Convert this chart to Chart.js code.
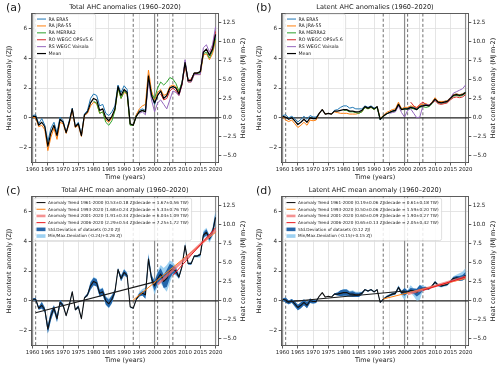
<!DOCTYPE html>
<html>
<head>
<meta charset="utf-8">
<script src="https://cdn.jsdelivr.net/npm/chart.js@4.4.1/dist/chart.umd.min.js"></script>
<style>
  html, body { margin: 0; padding: 0; background: #fff; }
  #wrap { position: relative; width: 500px; height: 367px; overflow: hidden; }
  canvas { position: absolute; }
</style>
</head>
<body>
<div id="wrap">
  <canvas id="pa" width="250" height="184" style="left:0;top:0"></canvas>
  <canvas id="pb" width="250" height="184" style="left:250px;top:0"></canvas>
  <canvas id="pc" width="250" height="184" style="left:0;top:183px"></canvas>
  <canvas id="pd" width="250" height="184" style="left:250px;top:183px"></canvas>
</div>
<script>
// ---- data (ZJ, annual anomalies) ----
const FIRST_YEAR = 1960;
const X_MIN = 1959.7, X_MAX = 2020.9;
const xTicks = [1960, 1965, 1970, 1975, 1980, 1985, 1990, 1995, 2000, 2005, 2010, 2015, 2020];
const yTicks = [-2, 0, 2, 4, 6];
const y2Ticks = [-5, -2.5, 0, 2.5, 5, 7.5, 10, 12.5];
const Y_MIN = -3, Y_MAX = 7;
const ZJ_TO_MJ = 1.96;
const solidYears = [1960, 2000, 2020];
const dashedYears = [1961, 1993, 2001, 2006];

const seriesNames = ['RA ERA5', 'RA JRA-55', 'RA MERRA2', 'RO WEGC OPSv5.6', 'RS WEGC Vaisala'];
const seriesColors = ['#1f77b4', '#ff7f0e', '#2ca02c', '#d62728', '#9467bd'];
const seriesStart = [1960, 1960, 1980, 2002, 1995];

// total AHC
const totEra5 = [
  0.15, 0.2, -0.4, -0.05, -0.5, -1.6, -0.7, -0.3, -1.0, 0.05,
  -0.2, -1.0, -0.2, 0.65, -0.55, -0.3, -1.15, 0.25, 0.5, 1.3,
  1.6, 1.5, 0.8, 0.9, 0.3, 0.15, 0.4, 0.8, 2.2, 1.7,
  2.15, 1.9, -0.45, -0.45, 0.2, 0.5, 0.6, 0.5, 2.9, 1.5,
  0.9, 1.5, 1.8, 1.3, 1.5, 2.0, 2.1, 2.0, 1.6, 2.3,
  3.7, 2.5, 2.5, 3.0, 3.0, 3.1, 4.4, 4.6, 4.2, 4.6,
  5.5];
const totJra55 = [
  0.05, 0.0, -0.6, -0.5, -0.8, -2.2, -1.3, -0.7, -1.45, -0.3,
  -0.4, -1.05, -0.4, 0.55, -0.65, -0.5, -1.25, 0.15, 0.3, 0.8,
  1.05, 0.95, 0.3, 0.4, -0.15, -0.3, 0.0, 0.5, 2.0, 1.3,
  1.7, 1.6, -0.45, -0.5, 0.2, 0.6, 0.8, 0.9, 3.2, 1.8,
  1.2, 1.7, 1.9, 1.5, 1.6, 2.1, 2.2, 2.1, 1.7, 2.3,
  3.6, 2.4, 2.4, 2.9, 2.9, 2.9, 4.2, 4.3, 3.9, 4.3,
  5.2];
const totMerra2 = [ // from 1980
  1.1, 1.0, 0.3, 0.4, -0.3, -0.5, -0.2, 0.5, 2.0, 1.3,
  1.8, 1.6, -0.5, -0.5, 0.1, 0.4, 0.5, 0.4, 2.6, 1.6,
  1.3, 2.0, 2.4, 2.2, 2.4, 2.7, 2.6, 2.3, 1.8, 2.4,
  3.7, 2.5, 2.5, 3.0, 3.0, 3.0, 4.3, 4.4, 4.0, 4.5,
  5.3];
const totRoWegc = [ // from 2002
  1.6, 1.2, 1.3, 1.8, 2.0, 1.8, 1.5, 2.2,
  3.6, 2.5, 2.6, 3.0, 3.0, 3.1, 4.4, 4.6, 4.2, 4.7,
  5.8];
const totRsVaisala = [ // from 1995
  0.3, 0.4, 0.2, 2.5, 1.2,
  0.4, 1.0, 1.2, 0.9, 0.6, 1.2, 1.8, 1.7, 1.5, 2.3,
  3.9, 2.4, 2.4, 2.9, 2.9, 2.9, 4.7, 4.9, 4.4, 4.9,
  6.1];
const totMean = [
  0.1, 0.1, -0.5, -0.3, -0.6, -1.9, -1.0, -0.5, -1.2, -0.1,
  -0.3, -1.0, -0.3, 0.6, -0.6, -0.4, -1.2, 0.2, 0.4, 1.0,
  1.3, 1.2, 0.5, 0.6, 0.0, -0.2, 0.1, 0.6, 2.1, 1.5,
  1.9, 1.7, -0.4, -0.5, 0.1, 0.4, 0.5, 0.4, 2.8, 1.5,
  1.0, 1.5, 1.8, 1.3, 1.5, 2.0, 2.1, 2.0, 1.6, 2.3,
  3.7, 2.5, 2.5, 3.0, 3.0, 3.1, 4.4, 4.6, 4.2, 4.6,
  5.6];

// latent AHC
const latEra5 = [
  0.15, 0.2, 0.0, 0.1, -0.05, -0.28, -0.1, 0.1, -0.1, 0.15,
  0.05, 0.05, 0.3, 0.55, 0.25, 0.3, 0.25, 0.5, 0.55, 0.7,
  0.8, 0.8, 0.65, 0.7, 0.6, 0.6, 0.6, 0.8, 0.7, 0.8,
  0.65, 0.75, -0.15, 0.1, 0.25, 0.35, 0.45, 0.55, 0.95, 0.6,
  0.65, 0.65, 0.75, 0.7, 0.6, 0.8, 0.85, 0.9, 0.85, 1.05,
  1.3, 1.1, 1.05, 1.1, 1.15, 1.35, 1.55, 1.6, 1.55, 1.6,
  1.75];
const latJra55 = [
  0.05, -0.15, -0.25, -0.15, -0.4, -0.65, -0.5, -0.3, -0.5, -0.15,
  -0.2, -0.15, 0.3, 0.55, 0.25, 0.3, 0.25, 0.4, 0.35, 0.3,
  0.3, 0.3, 0.25, 0.25, 0.25, 0.3, 0.4, 0.7, 0.6, 0.7,
  0.55, 0.75, -0.05, 0.15, 0.35, 0.45, 0.55, 0.6, 1.05, 0.6,
  0.7, 0.7, 0.8, 0.75, 0.7, 0.85, 0.9, 0.95, 0.85, 1.05,
  1.35, 1.1, 1.1, 1.1, 1.15, 1.35, 1.55, 1.6, 1.55, 1.6,
  1.7];
const latMerra2 = [ // from 1980
  0.5, 0.5, 0.4, 0.4, 0.35, 0.3, 0.4, 0.7, 0.6, 0.7,
  0.55, 0.7, -0.1, 0.1, 0.25, 0.35, 0.4, 0.45, 0.9, 0.55,
  0.6, 0.55, 0.65, 0.6, 0.55, 0.7, 0.75, 0.7, 0.75, 0.95,
  1.2, 1.0, 1.0, 1.0, 1.05, 1.25, 1.45, 1.5, 1.45, 1.5,
  1.65];
const latRoWegc = [ // from 2002
  1.05, 0.8, 0.65, 0.9, 1.05, 0.9, 0.85, 1.0,
  1.15, 0.95, 0.9, 0.95, 1.0, 1.2, 1.35, 1.4, 1.35, 1.4,
  1.55];
const latRsVaisala = [ // from 1995
  0.3, 0.35, 0.4, 0.8, 0.35,
  0.05, 0.5, 0.6, 0.3, 0.0, 0.05, 0.8, 0.9, 0.85, 1.0,
  1.2, 1.05, 1.0, 1.05, 1.1, 1.3, 1.65, 1.75, 1.85, 1.95,
  2.2];
const latMean = [
  0.1, 0.05, -0.1, 0.0, -0.2, -0.45, -0.3, -0.1, -0.3, 0.0,
  -0.05, -0.05, 0.3, 0.55, 0.25, 0.3, 0.25, 0.45, 0.45, 0.5,
  0.55, 0.55, 0.45, 0.45, 0.4, 0.4, 0.5, 0.75, 0.65, 0.75,
  0.6, 0.75, -0.1, 0.1, 0.25, 0.35, 0.45, 0.5, 0.9, 0.55,
  0.6, 0.6, 0.7, 0.65, 0.55, 0.75, 0.8, 0.85, 0.8, 1.0,
  1.25, 1.05, 1.0, 1.05, 1.1, 1.3, 1.5, 1.55, 1.5, 1.55,
  1.7];

// trend lines: [startYear, endYear] and [startValue, endValue]
const trendPeriods = [[1961, 2000], [1993, 2020], [2001, 2020], [2006, 2020]];
const trendColors = ['#1a1a1a', '#ff7f0e', 'rgba(240,110,110,0.75)', '#e8151b'];
const trendWidths = [1.1, 1, 2.6, 1];
const totTrendVals = [[-0.8, 1.27], [0.05, 4.6], [1.1, 4.73], [1.7, 4.9]];
const latTrendVals = [[-0.08, 0.66], [0.12, 1.5], [0.45, 1.6], [0.7, 1.6]];
const totTrendLabels = [
  'Anomaly Trend 1961-2000 (0.53±0.18 ZJ/decade = 1.67±0.56 TW)',
  'Anomaly Trend 1993-2020 (1.68±0.24 ZJ/decade = 5.33±0.76 TW)',
  'Anomaly Trend 2001-2020 (1.91±0.34 ZJ/decade = 6.04±1.09 TW)',
  'Anomaly Trend 2006-2020 (2.29±0.54 ZJ/decade = 7.25±1.72 TW)',
  'Std.Deviation of datasets (0.20 ZJ)',
  'Min/Max.Deviation (-0.24/+0.26 ZJ)'];
const latTrendLabels = [
  'Anomaly Trend 1961-2000 (0.19±0.06 ZJ/decade = 0.61±0.18 TW)',
  'Anomaly Trend 1993-2020 (0.50±0.06 ZJ/decade = 1.59±0.20 TW)',
  'Anomaly Trend 2001-2020 (0.60±0.09 ZJ/decade = 1.90±0.27 TW)',
  'Anomaly Trend 2006-2020 (0.65±0.13 ZJ/decade = 2.05±0.42 TW)',
  'Std.Deviation of datasets (0.12 ZJ)',
  'Min/Max.Deviation (-0.15/+0.15 ZJ)'];

const STD_COLOR = 'rgba(28,95,165,0.95)';
const MINMAX_COLOR = 'rgba(140,200,238,0.85)';
const FONT = '"DejaVu Sans", sans-serif';
const TXT = '#1a1a1a';

Chart.defaults.font.family = FONT;

function pts(vals, start) { return vals.map((v, i) => ({ x: start + i, y: v })); }
function minus(s) { return s.replace('-', '\u2212'); }

// spread of the datasets around the mean, year by year
function bands(list, mean) {
  const sLo = [], sHi = [], mLo = [], mHi = [];
  mean.forEach((m, i) => {
    const yr = FIRST_YEAR + i;
    const vals = [];
    list.forEach((s, k) => { const j = yr - seriesStart[k]; if (j >= 0 && j < s.length) vals.push(s[j]); });
    const avg = vals.reduce((a, b) => a + b, 0) / vals.length;
    const sd = Math.sqrt(vals.reduce((a, b) => a + (b - avg) * (b - avg), 0) / vals.length);
    sLo.push({ x: yr, y: m - sd }); sHi.push({ x: yr, y: m + sd });
    mLo.push({ x: yr, y: Math.min(m - sd, Math.min(...vals)) });
    mHi.push({ x: yr, y: Math.max(m + sd, Math.max(...vals)) });
  });
  return { sLo, sHi, mLo, mHi };
}

function roundRect(ctx, x, y, w, h, r) {
  ctx.beginPath();
  ctx.moveTo(x + r, y); ctx.lineTo(x + w - r, y); ctx.quadraticCurveTo(x + w, y, x + w, y + r);
  ctx.lineTo(x + w, y + h - r); ctx.quadraticCurveTo(x + w, y + h, x + w - r, y + h);
  ctx.lineTo(x + r, y + h); ctx.quadraticCurveTo(x, y + h, x, y + h - r);
  ctx.lineTo(x, y + r); ctx.quadraticCurveTo(x, y, x + r, y);
  ctx.closePath();
}

function drawLegend(ctx, lg) {
  ctx.save();
  ctx.font = lg.font + 'px ' + FONT;
  const tw = Math.max(...lg.items.map(it => ctx.measureText(it.label).width));
  const w = 3 + lg.sw + 2.5 + tw + 3;
  const h = lg.pad * 2 + lg.row * lg.items.length;
  ctx.fillStyle = 'rgba(255,255,255,0.85)';
  ctx.strokeStyle = '#d2d2d2'; ctx.lineWidth = 0.7;
  roundRect(ctx, lg.x, lg.y, w, h, 2); ctx.fill(); ctx.stroke();
  ctx.textBaseline = 'middle';
  lg.items.forEach((it, i) => {
    const cy = lg.y + lg.pad + lg.row * (i + 0.5);
    const x0 = lg.x + 3, x1 = x0 + lg.sw;
    if (it.kind === 'patch') {
      ctx.fillStyle = it.color; ctx.fillRect(x0, cy - 1.8, lg.sw, 3.6);
    } else {
      ctx.strokeStyle = it.color; ctx.lineWidth = it.width;
      ctx.beginPath(); ctx.moveTo(x0, cy); ctx.lineTo(x1, cy); ctx.stroke();
    }
    ctx.fillStyle = TXT;
    ctx.fillText(it.label, x1 + 2.5, cy + 0.3);
  });
  ctx.restore();
}

const decoPlugin = {
  id: 'deco',
  beforeDatasetsDraw(chart, args, o) {
    const { ctx, chartArea: a } = chart;
    const x = chart.scales.x, y = chart.scales.y;
    ctx.save();
    ctx.beginPath(); ctx.rect(a.left, a.top, a.right - a.left, a.bottom - a.top); ctx.clip();
    ctx.strokeStyle = '#8c8c8c'; ctx.lineWidth = 1.2;
    solidYears.forEach(yr => {
      const px = x.getPixelForValue(yr);
      ctx.beginPath(); ctx.moveTo(px, a.top); ctx.lineTo(px, a.bottom); ctx.stroke();
    });
    ctx.strokeStyle = '#555'; ctx.lineWidth = 0.85; ctx.setLineDash([3, 2.2]);
    dashedYears.forEach(yr => {
      const px = x.getPixelForValue(yr);
      ctx.beginPath(); ctx.moveTo(px, a.top); ctx.lineTo(px, a.bottom); ctx.stroke();
    });
    ctx.setLineDash([]);
    ctx.strokeStyle = '#262626'; ctx.lineWidth = 1.2;
    const py = y.getPixelForValue(0);
    ctx.beginPath(); ctx.moveTo(a.left, py); ctx.lineTo(a.right, py); ctx.stroke();
    ctx.restore();
  },
  afterDraw(chart, args, o) {
    const { ctx, chartArea: a } = chart;
    ctx.save();
    // top frame edge
    ctx.strokeStyle = '#333'; ctx.lineWidth = 0.8;
    ctx.beginPath(); ctx.moveTo(a.left, a.top); ctx.lineTo(a.right, a.top); ctx.stroke();
    ctx.fillStyle = TXT;
    ctx.textAlign = 'center'; ctx.textBaseline = 'middle';
    ctx.font = '6.6px ' + FONT;
    ctx.fillText(o.title, (a.left + a.right) / 2, a.top - 6.3);
    ctx.font = '6.4px ' + FONT;
    ctx.fillText('Time (years)', (a.left + a.right) / 2, a.bottom + 15);
    const cy = (a.top + a.bottom) / 2;
    ctx.save(); ctx.translate(9.5, cy); ctx.rotate(-Math.PI / 2);
    ctx.fillText('Heat content anomaly (ZJ)', 0, 0); ctx.restore();
    ctx.save(); ctx.translate(243, cy); ctx.rotate(-Math.PI / 2);
    ctx.fillText('Heat content anomaly (MJ m-2)', 0, 0); ctx.restore();
    ctx.textAlign = 'left';
    ctx.font = '11px ' + FONT;
    ctx.fillText(o.letter, 6, 8.5);
    ctx.restore();
    drawLegend(ctx, o.legend);
  }
};

function scalesCfg() {
  const tickFont = { size: 5.4, family: FONT };
  return {
    x: {
      type: 'linear', min: X_MIN, max: X_MAX,
      afterBuildTicks: s => { s.ticks = xTicks.map(v => ({ value: v })); },
      afterFit: s => { s.height = 21.5; },
      grid: { color: '#dedede', lineWidth: 0.8, tickLength: 3, tickColor: '#333', tickWidth: 0.8 },
      border: { color: '#333', width: 0.8 },
      ticks: { font: tickFont, color: TXT, padding: 0.8, maxRotation: 0, autoSkip: false, callback: v => String(v) }
    },
    y: {
      position: 'left', min: Y_MIN, max: Y_MAX,
      afterBuildTicks: s => { s.ticks = yTicks.map(v => ({ value: v })); },
      afterFit: s => { s.width = 31.7; },
      grid: { color: '#dedede', lineWidth: 0.8, tickLength: 3, tickColor: '#333', tickWidth: 0.8 },
      border: { color: '#333', width: 0.8 },
      ticks: { font: { size: 5.7, family: FONT }, color: TXT, padding: 1.5, callback: v => minus(String(v)) }
    },
    y2: {
      position: 'right', min: Y_MIN * ZJ_TO_MJ, max: Y_MAX * ZJ_TO_MJ,
      afterBuildTicks: s => { s.ticks = y2Ticks.map(v => ({ value: v })); },
      afterFit: s => { s.width = 31.7; },
      grid: { drawOnChartArea: false, tickLength: 3, tickColor: '#333', tickWidth: 0.8 },
      border: { color: '#333', width: 0.8 },
      ticks: { font: { size: 5.7, family: FONT }, color: TXT, padding: 1.5, callback: v => minus(v.toFixed(1)) }
    }
  };
}

function makeChart(id, datasets, deco) {
  new Chart(document.getElementById(id), {
    type: 'line',
    data: { datasets: datasets },
    options: {
      responsive: false, animation: false, events: [],
      layout: { padding: { top: 13.5, left: 0, right: 0, bottom: 0 } },
      elements: { point: { radius: 0 }, line: { tension: 0, borderJoinStyle: 'round' } },
      scales: scalesCfg(),
      plugins: { legend: { display: false }, tooltip: { enabled: false }, deco: deco }
    },
    plugins: [decoPlugin]
  });
}

function datasetsPanel(list, mean) {
  const ds = list.map((s, k) => ({
    data: pts(s, seriesStart[k]), borderColor: seriesColors[k], borderWidth: 1, fill: false, order: 6 - k
  }));
  ds.push({ data: pts(mean, FIRST_YEAR), borderColor: '#000', borderWidth: 1.2, fill: false, order: 0 });
  return ds;
}

function datasetsMean(list, mean, trendVals) {
  const b = bands(list, mean);
  const ds = [
    { data: b.mLo, borderWidth: 0, borderColor: 'rgba(0,0,0,0)', fill: false, order: 20 },
    { data: b.mHi, borderWidth: 0, borderColor: 'rgba(0,0,0,0)', backgroundColor: MINMAX_COLOR, fill: '-1', order: 19 },
    { data: b.sLo, borderWidth: 0, borderColor: 'rgba(0,0,0,0)', fill: false, order: 18 },
    { data: b.sHi, borderWidth: 0, borderColor: 'rgba(0,0,0,0)', backgroundColor: STD_COLOR, fill: '-1', order: 17 },
    { data: pts(mean, FIRST_YEAR), borderColor: '#111', borderWidth: 1.1, fill: false, order: 10 }
  ];
  trendPeriods.forEach((p, k) => {
    ds.push({
      data: [{ x: p[0], y: trendVals[k][0] }, { x: p[1], y: trendVals[k][1] }],
      borderColor: trendColors[k], borderWidth: trendWidths[k], fill: false, order: 5 - k
    });
  });
  return ds;
}

function seriesLegend() {
  const items = seriesNames.map((n, k) => ({ label: n, color: seriesColors[k], width: 1 }));
  items.push({ label: 'Mean', color: '#000', width: 1.2 });
  return items;
}
function trendLegend(labels) {
  const items = trendPeriods.map((p, k) => ({ label: labels[k], color: trendColors[k], width: trendWidths[k] }));
  items.push({ label: labels[4], kind: 'patch', color: STD_COLOR });
  items.push({ label: labels[5], kind: 'patch', color: MINMAX_COLOR });
  return items;
}

const totList = [totEra5, totJra55, totMerra2, totRoWegc, totRsVaisala];
const latList = [latEra5, latJra55, latMerra2, latRoWegc, latRsVaisala];

makeChart('pa', datasetsPanel(totList, totMean), {
  letter: '(a)', title: 'Total AHC anomalies (1960\u20132020)',
  legend: { x: 34, y: 14, sw: 9, pad: 1.6, row: 6.9, font: 4.7, items: seriesLegend() }
});
makeChart('pb', datasetsPanel(latList, latMean), {
  letter: '(b)', title: 'Latent AHC anomalies (1960\u20132020)',
  legend: { x: 34, y: 14, sw: 9, pad: 1.6, row: 6.9, font: 4.7, items: seriesLegend() }
});
makeChart('pc', datasetsMean(totList, totMean, totTrendVals), {
  letter: '(c)', title: 'Total AHC mean anomaly (1960\u20132020)',
  legend: { x: 33.5, y: 15, sw: 9, pad: 1.2, row: 6.7, font: 4.2, items: trendLegend(totTrendLabels) }
});
makeChart('pd', datasetsMean(latList, latMean, latTrendVals), {
  letter: '(d)', title: 'Latent AHC mean anomaly (1960\u20132020)',
  legend: { x: 33.5, y: 15, sw: 9, pad: 1.2, row: 6.7, font: 4.2, items: trendLegend(latTrendLabels) }
});
</script>
</body>
</html>
